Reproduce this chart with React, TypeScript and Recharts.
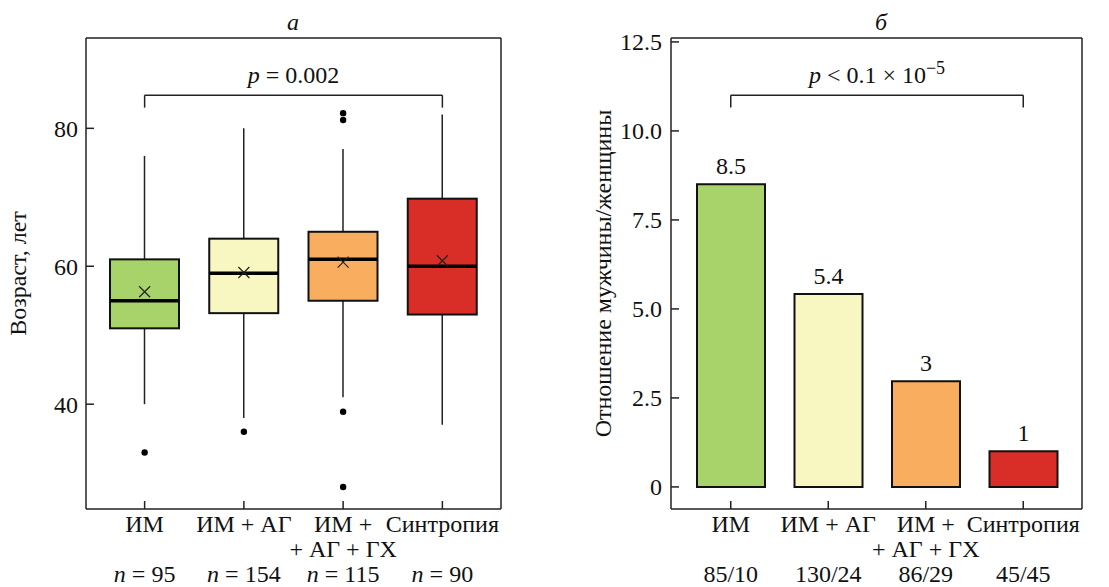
import React from 'react';
import {
  ComposedChart,
  Bar,
  Cell,
  Scatter,
  XAxis,
  YAxis,
  ReferenceLine,
  LabelList,
} from 'recharts';

const FONT = '"Liberation Serif", "DejaVu Serif", serif';
const INK = '#222';

// categories
const groups = ['ИМ', 'ИМ + АГ', 'ИМ + АГ + ГХ', 'Синтропия'];
const groupLines = [['ИМ'], ['ИМ + АГ'], ['ИМ +', '+ АГ + ГХ'], ['Синтропия']];
const groupColors = ['#a8d36b', '#f8f6c1', '#f8ad5f', '#d92d27'];
const groupN = ['95', '154', '115', '90'];
const menWomen = ['85/10', '130/24', '86/29', '45/45'];

// panel а: age, years
const ageMin = [40, 38, 41, 37];
const ageQ1 = [51, 53.2, 55, 53];
const ageMedian = [55, 59, 61, 60];
const ageQ3 = [61, 64, 65, 69.8];
const ageMax = [76, 80, 77, 82];
const ageMean = [56.3, 59.1, 60.6, 60.8];
const ageOutliers = [[33], [36], [82.2, 81.2, 38.9, 28], []];
const ageTicks = [40, 60, 80];
const ageDomain = [24.8, 93.1];

// panel б: men/women ratio
const ratioValues = [8.5, 5.42, 2.97, 1];
const ratioLabels = ['8.5', '5.4', '3', '1'];
const ratioTicks = [0, 2.5, 5, 7.5, 10, 12.5];
const ratioDomain = [-0.62, 12.61];

const ageData = groups.map((name, i) => ({
  name,
  box: [ageQ1[i], ageQ3[i]],
  q1: ageQ1[i],
  q3: ageQ3[i],
  lo: ageMin[i],
  hi: ageMax[i],
  med: ageMedian[i],
  mean: ageMean[i],
  color: groupColors[i],
}));
const outlierData = groups.flatMap((name, i) => ageOutliers[i].map((v) => ({ name, v })));

const ratioData = groups.map((name, i) => ({ name, ratio: ratioValues[i], label: ratioLabels[i] }));

// box + whiskers, scaled from the bar the library laid out for [q1, q3]
const BoxShape = (props: any) => {
  const { x, y, width, height, payload } = props;
  const top = Math.min(y, y + height);
  const h = Math.abs(height);
  const ppu = h / (payload.q3 - payload.q1);
  const cx = x + width / 2;
  const yHi = top - (payload.hi - payload.q3) * ppu;
  const yLo = top + h + (payload.q1 - payload.lo) * ppu;
  const yMed = top + (payload.q3 - payload.med) * ppu;
  return (
    <g>
      <line x1={cx} x2={cx} y1={yHi} y2={top} stroke={INK} strokeWidth={1.5} />
      <line x1={cx} x2={cx} y1={top + h} y2={yLo} stroke={INK} strokeWidth={1.5} />
      <rect x={x} y={top} width={width} height={h} fill={payload.color} stroke="#111" strokeWidth={2} />
      <line x1={x} x2={x + width} y1={yMed} y2={yMed} stroke="#000" strokeWidth={3.5} />
    </g>
  );
};

const MeanMark = (props: any) => {
  const { cx, cy } = props;
  const s = 5.5;
  return (
    <path
      d={`M${cx - s},${cy - s}L${cx + s},${cy + s}M${cx + s},${cy - s}L${cx - s},${cy + s}`}
      stroke={INK}
      strokeWidth={1.2}
      fill="none"
    />
  );
};

const OutlierDot = (props: any) => <circle cx={props.cx} cy={props.cy} r={3.2} fill="#000" />;

// category label (one or two lines) plus the n / ratio row, as one text block
const makeTick = (bottom: string[], italicN: boolean) => (props: any) => {
  const { x, y, payload } = props;
  const i = groups.indexOf(payload.value);
  const lines = groupLines[i] || [];
  return (
    <text x={x} y={y} textAnchor="middle" fontSize={24} fill="#111" fontFamily={FONT}>
      {lines.map((l, k) => (
        <tspan key={k} x={x} y={y + 23 + k * 25}>
          {l}
        </tspan>
      ))}
      <tspan x={x} y={y + 73}>
        {italicN ? (
          <>
            <tspan fontStyle="italic">n</tspan>
            <tspan>{' = ' + bottom[i]}</tspan>
          </>
        ) : (
          bottom[i]
        )}
      </tspan>
    </text>
  );
};

const yLabel = (text: string, dx: number) => (props: any) => {
  const vb = props.viewBox || {};
  const cx = vb.x + dx;
  const cy = vb.y + vb.height / 2;
  return (
    <text
      x={cx}
      y={cy}
      transform={`rotate(-90, ${cx}, ${cy})`}
      textAnchor="middle"
      dominantBaseline="central"
      fontSize={24}
      fill="#111"
      fontFamily={FONT}
    >
      {text}
    </text>
  );
};

const pLabel = (kind: 'a' | 'b') => (props: any) => {
  const vb = props.viewBox || {};
  const cx = vb.x + (vb.width || 0) / 2;
  const cy = Math.min(vb.y, vb.y + (vb.height || 0)) - 12;
  return (
    <text x={cx} y={cy} textAnchor="middle" fontSize={24} fill="#111" fontFamily={FONT}>
      <tspan fontStyle="italic">p</tspan>
      {kind === 'a' ? (
        <tspan>{' = 0.002'}</tspan>
      ) : (
        <>
          <tspan>{' < 0.1 × 10'}</tspan>
          <tspan dy={-9} fontSize={18}>
            −5
          </tspan>
        </>
      )}
    </text>
  );
};

const tickStyle = { fontSize: 24, fill: '#111', fontFamily: FONT };
const axisStroke = { stroke: INK, strokeWidth: 1.5 };

function AgePanel() {
  return (
    <ComposedChart width={560} height={587} data={ageData} margin={{ top: 37, right: 58, left: 0, bottom: 0 }}>
      <XAxis
        dataKey="name"
        type="category"
        allowDuplicatedCategory={false}
        padding={{ left: 9, right: 9 }}
        interval={0}
        height={78}
        tickSize={-8}
        tickMargin={8}
        axisLine={axisStroke}
        tickLine={axisStroke}
        tick={makeTick(groupN, true)}
      />
      <XAxis xAxisId="top" orientation="top" dataKey="name" height={1} tick={false} tickLine={false} axisLine={axisStroke} />
      <YAxis
        type="number"
        domain={ageDomain}
        ticks={ageTicks}
        allowDataOverflow
        interval={0}
        width={86}
        tickSize={-8}
        tickMargin={16}
        axisLine={axisStroke}
        tickLine={axisStroke}
        tick={tickStyle}
        label={yLabel('Возраст, лет', 17.5)}
      />
      <YAxis yAxisId="right" orientation="right" width={1} tick={false} tickLine={false} axisLine={axisStroke} domain={ageDomain} />
      <Bar dataKey="box" barSize={69} shape={BoxShape} isAnimationActive={false} />
      <Scatter dataKey="mean" shape={MeanMark} isAnimationActive={false} />
      <Scatter data={outlierData} dataKey="v" shape={OutlierDot} isAnimationActive={false} />
      <ReferenceLine segment={[{ x: groups[0], y: 84.8 }, { x: groups[3], y: 84.8 }]} stroke={INK} strokeWidth={1.5} label={pLabel('a')} />
      <ReferenceLine segment={[{ x: groups[0], y: 84.8 }, { x: groups[0], y: 83 }]} stroke={INK} strokeWidth={1.5} />
      <ReferenceLine segment={[{ x: groups[3], y: 84.8 }, { x: groups[3], y: 83 }]} stroke={INK} strokeWidth={1.5} />
    </ComposedChart>
  );
}

function RatioPanel() {
  return (
    <ComposedChart width={549} height={587} data={ratioData} margin={{ top: 37, right: 26, left: 0, bottom: 0 }}>
      <XAxis
        dataKey="name"
        type="category"
        padding={{ left: 11, right: 10 }}
        interval={0}
        height={78}
        tickSize={-8}
        tickMargin={8}
        axisLine={axisStroke}
        tickLine={axisStroke}
        tick={makeTick(menWomen, false)}
      />
      <XAxis xAxisId="top" orientation="top" dataKey="name" height={1} tick={false} tickLine={false} axisLine={axisStroke} />
      <YAxis
        type="number"
        domain={ratioDomain}
        ticks={ratioTicks}
        allowDataOverflow
        interval={0}
        width={111}
        tickSize={-8}
        tickMargin={17}
        axisLine={axisStroke}
        tickLine={axisStroke}
        tick={tickStyle}
        tickFormatter={(v: number) => (v === 0 ? '0' : v.toFixed(1))}
        label={yLabel('Отношение мужчины/женщины', 42.5)}
      />
      <YAxis yAxisId="right" orientation="right" width={1} tick={false} tickLine={false} axisLine={axisStroke} domain={ratioDomain} />
      <Bar dataKey="ratio" barSize={68} stroke="#111" strokeWidth={2} isAnimationActive={false}>
        {ratioData.map((d, i) => (
          <Cell key={d.name} fill={groupColors[i]} />
        ))}
        <LabelList dataKey="label" position="top" offset={10} fontSize={24} fill="#111" fontFamily={FONT} />
      </Bar>
      <ReferenceLine segment={[{ x: groups[0], y: 11.0 }, { x: groups[3], y: 11.0 }]} stroke={INK} strokeWidth={1.5} label={pLabel('b')} />
      <ReferenceLine segment={[{ x: groups[0], y: 11.0 }, { x: groups[0], y: 10.66 }]} stroke={INK} strokeWidth={1.5} />
      <ReferenceLine segment={[{ x: groups[3], y: 11.0 }, { x: groups[3], y: 10.66 }]} stroke={INK} strokeWidth={1.5} />
    </ComposedChart>
  );
}

const titleStyle: React.CSSProperties = {
  position: 'absolute',
  top: 10,
  width: 40,
  textAlign: 'center',
  fontSize: 24,
  lineHeight: '24px',
  fontStyle: 'italic',
  fontFamily: FONT,
  color: '#111',
};

export default function App() {
  return (
    <div style={{ position: 'absolute', left: 0, top: 0, width: 1109, height: 587, background: '#fff', overflow: 'hidden' }}>
      <div style={{ ...titleStyle, left: 293 - 20 }}>а</div>
      <div style={{ ...titleStyle, left: 881 - 20 }}>б</div>
      <div style={{ position: 'absolute', left: 0, top: 0 }}>
        <AgePanel />
      </div>
      <div style={{ position: 'absolute', left: 560, top: 0 }}>
        <RatioPanel />
      </div>
    </div>
  );
}
